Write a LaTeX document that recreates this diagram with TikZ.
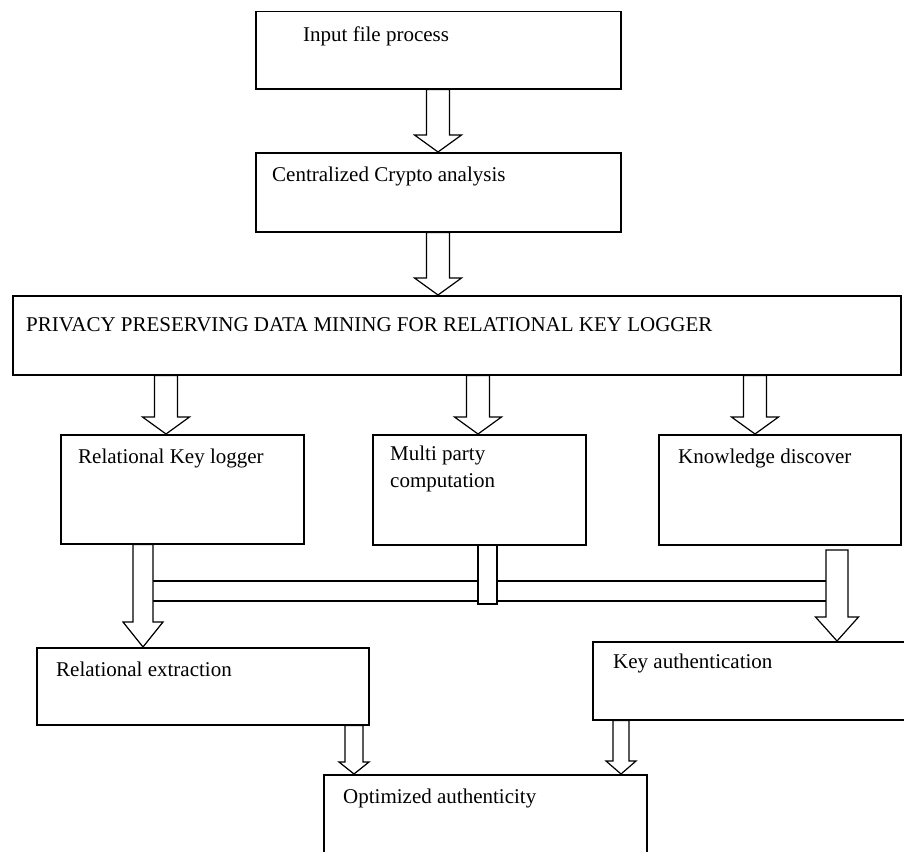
\documentclass[tikz,border=0pt]{standalone}
\usepackage{fontspec}
\setmainfont{Liberation Serif}
\usetikzlibrary{calc}
\newcommand\blockarr[5]{%
  \draw[barr] let \p1=(#1), \p2=(#2) in
    (\x1-#3pt,\y1) -- (\x1-#3pt,\y2+#5pt) -- (\x1-#4pt,\y2+#5pt) -- (\x1,\y2)
    -- (\x1+#4pt,\y2+#5pt) -- (\x1+#3pt,\y2+#5pt) -- (\x1+#3pt,\y1) -- cycle;}
\begin{document}
\begin{tikzpicture}[x=1pt,y=-1pt,
  box/.style={draw, line width=1.5pt, rectangle, inner sep=0pt, anchor=north west},
  lbl/.style={anchor=west, inner sep=0pt, font=\fontsize{21}{27}\selectfont, align=left},
  barr/.style={draw, line width=1.2pt, fill=white, line join=miter},
  barline/.style={line width=1.2pt}]
\useasboundingbox (0,0) rectangle (904,851);
\fill[white] (0,0) rectangle (904,851);
% boxes
\node[box, minimum width=365, minimum height=77] (b1) at (255,11) {};
\node[box, minimum width=365, minimum height=79] (b2) at (255,152) {};
\node[box, minimum width=888, minimum height=79] (b3) at (12,295) {};
\node[box, minimum width=243, minimum height=109] (b4) at (60,434) {};
\node[box, minimum width=213, minimum height=110] (b5) at (372,434) {};
\node[box, minimum width=242, minimum height=110] (b6) at (658,434) {};
\node[box, minimum width=332, minimum height=77] (b7) at (36,647) {};
\node[box, minimum width=316, minimum height=78] (b8) at (592,641) {};
\node[box, minimum width=323, minimum height=90] (b9) at (323,774) {};
% labels
\node[lbl] (t1) at (303,36) {Input file process};
\node[lbl] (t2) at (272,176) {Centralized Crypto analysis};
\node[lbl] (t3) at (26,325) {PRIVACY PRESERVING DATA MINING FOR RELATIONAL KEY LOGGER};
\node[lbl] (t4) at (78,458) {Relational Key logger};
\node[lbl, anchor=north west] (t5) at (390,446) {Multi party\\computation};
\node[lbl] (t6) at (678,458) {Knowledge discover};
\node[lbl] (t7) at (56,669) {Relational extraction};
\node[lbl] (t8) at (613,663) {Key authentication};
\node[lbl] (t9) at (343,798) {Optimized authenticity};
% arrow x positions
\coordinate (xa) at (438,0);
\coordinate (xl) at (166,0);
\coordinate (xm) at (478,0);
\coordinate (xr) at (755,0);
\coordinate (xdl) at (143,0);
\coordinate (xdr) at (837,0);
\coordinate (rs) at (837,550);
\coordinate (xol) at (354,0);
\coordinate (xor) at (621,0);
% bar
\coordinate (barTL) at (153,581);
\coordinate (barTR) at (826,581);
\coordinate (barBL) at (153,601);
\coordinate (barBR) at (826,601);
\draw[barline] (barTL) -- (barTR);
\draw[barline] (barBL) -- (barBR);
% arrows
\blockarr{xa |- b1.south}{xa |- b2.north}{11.5}{23.5}{17}
\blockarr{xa |- b2.south}{xa |- b3.north}{11.5}{23.5}{17}
\blockarr{xl |- b3.south}{xl |- b4.north}{11.5}{23.5}{17}
\blockarr{xm |- b3.south}{xm |- b5.north}{11.5}{23.5}{17}
\blockarr{xr |- b3.south}{xr |- b6.north}{11.5}{23.5}{17}
\blockarr{xdl |- b4.south}{xdl |- b7.north}{10}{20}{25}
\blockarr{rs}{xdr |- b8.north}{11}{21.5}{24}
\blockarr{xol |- b7.south}{xol |- b9.north}{9}{15}{12}
\blockarr{xor |- b8.south}{xor |- b9.north}{8}{15}{13}
% middle connector
\node[box, fill=white, minimum width=19, minimum height=59] (mid) at (477,544) {};
\end{tikzpicture}
\end{document}
